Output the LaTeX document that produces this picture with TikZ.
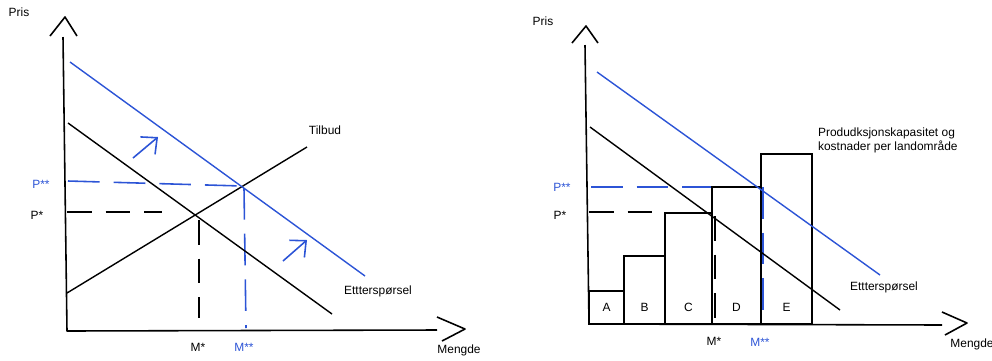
\documentclass[tikz,border=0pt]{standalone}
\usepackage{fontspec}
\setmainfont{Liberation Sans}
\usetikzlibrary{arrows.meta,positioning}
\definecolor{shiftblue}{RGB}{44,84,214}

\begin{document}
\begin{tikzpicture}[x=0.02cm, y=-0.02cm,
  axis/.style={line width=0.9pt, line join=round},
  curve/.style={line width=0.8pt},
  guide/.style={line width=0.9pt, dash pattern=on 14pt off 8pt},
  bguide/.style={guide, shiftblue, dash pattern=on 18pt off 8pt},
  bar/.style={line width=0.9pt},
  lbl/.style={font=\fontsize{6.8}{8}\selectfont, inner sep=1pt, align=left},
  shiftarr/.style={-{Straight Barb[length=7pt,width=13pt]}, shiftblue, line width=0.9pt},
]
\useasboundingbox (0,0) rectangle (992,360);

% ---- left: market with demand shift
\coordinate (O1) at (67,331);
\draw[axis] (63,37) -- (O1) -- (437,330);
\draw[axis] (50,36) -- (65,17) -- (77,36);
\draw[axis] (437,317) -- (465,329) -- (442,341);
\node[lbl] (pris1) at (19,12) {Pris};
\node[lbl] (mengde1) at (459,350) {Mengde};

% equilibrium guides
\draw[guide] (67,212) -- (162,212);
\draw[guide] (199,220) -- (199,318);
\draw[bguide] (68,181) -- (242,186);
\draw[bguide] (244,188) -- (246,328);

% curves
\draw[curve] (67,293) -- (307,147);
\draw[curve] (68,123) -- (332,314);
\draw[curve, shiftblue] (70,62) -- (365,276);
\draw[shiftarr] (133,158) -- (158,137);
\draw[shiftarr] (283,261) -- (307,240);

\node[lbl] (tilbud) at (325,130) {Tilbud};
\node[lbl] (ett1) at (378,291) {Ettterspørsel};
\node[lbl, text=shiftblue] (pp1) at (41,184) {P**};
\node[lbl] (p1) at (37,215) {P*};
\node[lbl] (m1) at (198,347) {M*};
\node[lbl, text=shiftblue] (mm1) at (244,347) {M**};

% ---- right: capacity and cost per area
\coordinate (O2) at (589,324);
\draw[axis] (585,45) -- (O2) -- (942,325);
\draw[axis] (572,43) -- (586,26) -- (598,43);
\draw[axis] (942,312) -- (967,323) -- (945,335);
\node[lbl] (pris2) at (543,21) {Pris};
\node[lbl] (mengde2) at (972,344) {Mengde};

\draw[guide] (589,212) -- (665,212);
\draw[guide] (715,216) -- (715,323);
\draw[bguide] (591,187) -- (761,187);
\draw[bguide] (763,187) -- (763,323);

% one bar per area
\foreach \name/\xa/\xb/\top in {A/589/624/291, B/624/665/256, C/665/712/213,
                                D/712/761/187, E/761/812/154} {
  \draw[bar] (\xa,324) rectangle (\xb,\top);
  \node[lbl] (bar\name) at ({(\xa+\xb)/2},307) {\name};
}

\draw[curve] (590,127) -- (840,310);
\draw[curve, shiftblue] (597,72) -- (880,275);

\node[lbl, anchor=west] (cap) at (816,140) {Produdksjonskapasitet og\\kostnader per landområde};
\node[lbl] (ett2) at (884,287) {Ettterspørsel};
\node[lbl, text=shiftblue] (pp2) at (562,187) {P**};
\node[lbl] (p2) at (560,215) {P*};
\node[lbl] (m2) at (714,341) {M*};
\node[lbl, text=shiftblue] (mm2) at (760,342) {M**};
\end{tikzpicture}
\end{document}
